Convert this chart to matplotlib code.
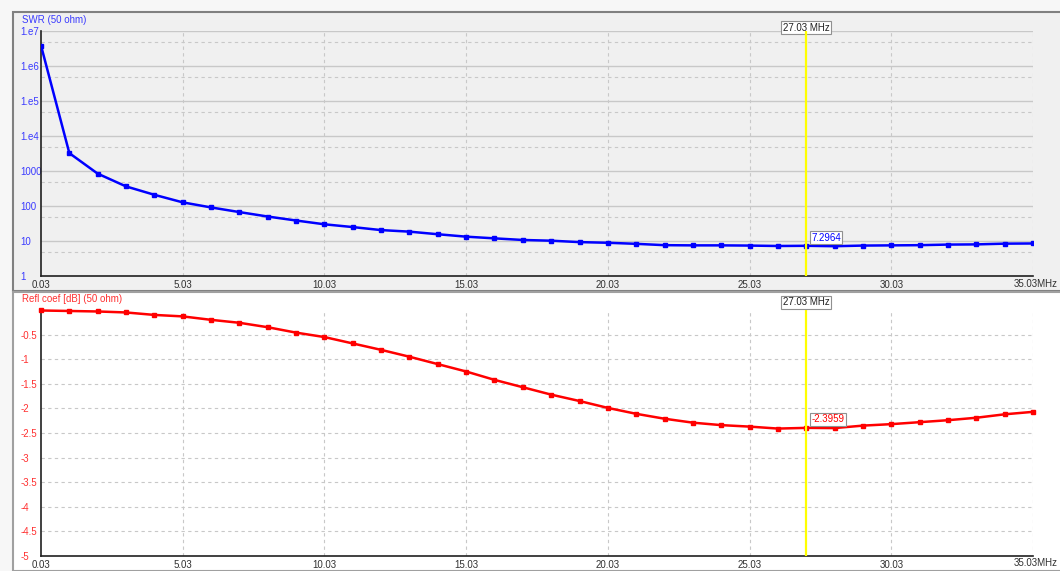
import numpy as np
import matplotlib
matplotlib.use("Agg")
import matplotlib.pyplot as plt
from matplotlib.patches import Rectangle
from matplotlib.ticker import FixedLocator, NullFormatter

plt.rcParams['font.family'] = ['Liberation Sans', 'DejaVu Sans']
plt.rcParams['font.size'] = 7

# sweep: 0.03 .. 35.03 MHz, 1 MHz step
freq = [0.03, 1.03, 2.03, 3.03, 4.03, 5.03, 6.03, 7.03, 8.03, 9.03,
        10.03, 11.03, 12.03, 13.03, 14.03, 15.03, 16.03, 17.03, 18.03, 19.03,
        20.03, 21.03, 22.03, 23.03, 24.03, 25.03, 26.03, 27.03, 28.03, 29.03,
        30.03, 31.03, 32.03, 33.03, 34.03, 35.03]

swr = [3.85e6, 3240, 840, 363, 209, 127, 91, 67, 50, 38.5,
       30, 25, 20.5, 18.5, 15.6, 13.3, 11.9, 10.7, 10.2, 9.3,
       8.9, 8.3, 7.6, 7.5, 7.5, 7.4, 7.2, 7.2964, 7.1, 7.4,
       7.5, 7.6, 7.9, 8.0, 8.4, 8.5]

refl_db = [-0.01, -0.02, -0.03, -0.05, -0.10, -0.13, -0.20, -0.26, -0.35, -0.46,
           -0.55, -0.68, -0.81, -0.95, -1.10, -1.25, -1.42, -1.57, -1.72, -1.85,
           -1.99, -2.11, -2.21, -2.29, -2.34, -2.37, -2.41, -2.3959, -2.40, -2.35,
           -2.32, -2.28, -2.24, -2.19, -2.12, -2.07]

cursor_f = 27.03
cursor_swr = 7.2964
cursor_db = -2.3959

xticks = [0.03, 5.03, 10.03, 15.03, 20.03, 25.03, 30.03, 35.03]
swr_ticks = [1, 10, 100, 1000, 1e4, 1e5, 1e6, 1e7]
swr_labels = ['1', '10', '100', '1000', '1.e4', '1.e5', '1.e6', '1.e7']
swr_minor = [5, 50, 500, 5000, 5e4, 5e5, 5e6]
db_ticks = [-5, -4.5, -4, -3.5, -3, -2.5, -2, -1.5, -1, -0.5]
db_labels = ['-5', '-4.5', '-4', '-3.5', '-3', '-2.5', '-2', '-1.5', '-1', '-0.5']

W, H = 1060, 571
fig = plt.figure(figsize=(W / 100, H / 100), dpi=100)
fig.patch.set_facecolor('#f7f7f7')


def px_rect(x0, y0, x1, y1):
    return [x0 / W, 1 - y1 / H, (x1 - x0) / W, (y1 - y0) / H]


# panel backgrounds
fig.add_artist(Rectangle((13 / W, 1 - 291 / H), 1, (291 - 12) / H, transform=fig.transFigure,
                         facecolor='#f0f0f0', edgecolor='#808080', lw=1.5, zorder=0))
fig.add_artist(Rectangle((13 / W, 0), 1, (571 - 292) / H, transform=fig.transFigure,
                         facecolor='white', edgecolor='#a0a0a0', lw=1.5, zorder=0))

grid_dash = dict(color='#c8c8c8', lw=0.8, ls=(0, (3, 3)))


def style_axes(ax, label_color):
    ax.set_xlim(0.03, 35.03)
    ax.set_xticks(xticks)
    # last label carries the unit, drawn separately at the right edge
    ax.set_xticklabels(['%.2f' % t for t in xticks[:-1]] + [''], color='#303030')
    for t in xticks[1:]:
        ax.axvline(t, zorder=1, **grid_dash)
    for side in ['top', 'right']:
        ax.spines[side].set_visible(False)
    for side in ['left', 'bottom']:
        ax.spines[side].set_color('#202020')
        ax.spines[side].set_linewidth(1.2)
    ax.tick_params(axis='both', length=0)
    ax.tick_params(axis='x', pad=3)
    ax.tick_params(axis='y', pad=15, colors=label_color)
    for lbl in ax.get_yticklabels():
        lbl.set_horizontalalignment('left')


# SWR panel
ax1 = fig.add_axes(px_rect(41, 31, 1033, 276))
ax1.set_facecolor('#f0f0f0')
ax1.set_yscale('log')
ax1.set_ylim(1, 1e7)
ax1.yaxis.set_major_locator(FixedLocator(swr_ticks))
ax1.yaxis.set_minor_locator(FixedLocator([]))
ax1.yaxis.set_minor_formatter(NullFormatter())
ax1.set_yticks(swr_ticks)
ax1.set_yticklabels(swr_labels)
for v in swr_ticks[1:]:
    ax1.axhline(v, color='#c8c8c8', lw=1.0, zorder=1)
for v in swr_minor:
    ax1.axhline(v, zorder=1, **grid_dash)
style_axes(ax1, '#3a3aff')
ax1.plot(freq, swr, color='#0000ff', lw=1.8, marker='s', ms=3.5, zorder=3)
ax1.axvline(cursor_f, color='#ffff00', lw=1.6, zorder=4)
ax1.text(cursor_f, 1.25e7, '27.03 MHz', ha='center', va='center', color='#202020',
         bbox=dict(boxstyle='square,pad=0.15', fc='white', ec='#909090', lw=0.8), clip_on=False)
ax1.text(cursor_f + 0.17, cursor_swr * 1.22, '7.2964', ha='left', va='bottom', color='#0000ff',
         bbox=dict(boxstyle='square,pad=0.15', fc='white', ec='#909090', lw=0.8), zorder=5)
fig.text(22 / W, 1 - 20 / H, 'SWR (50 ohm)', color='#3a3aff', ha='left', va='center')
fig.text(1058 / W, 1 - 284 / H, '%.2fMHz' % xticks[-1], color='#303030', ha='right', va='center')

# reflection coefficient panel
ax2 = fig.add_axes(px_rect(41, 310, 1033, 556))
ax2.set_facecolor('white')
ax2.set_ylim(-5, 0)
ax2.set_yticks(db_ticks)
ax2.set_yticklabels(db_labels)
for v in db_ticks[1:]:
    ax2.axhline(v, zorder=1, **grid_dash)
style_axes(ax2, '#ff3030')
ax2.plot(freq, refl_db, color='#ff0000', lw=1.8, marker='s', ms=3.5, zorder=3, clip_on=False)
ax2.axvline(cursor_f, color='#ffff00', lw=1.6, zorder=4)
ax2.text(cursor_f, 0.16, '27.03 MHz', ha='center', va='center', color='#202020',
         bbox=dict(boxstyle='square,pad=0.15', fc='white', ec='#909090', lw=0.8), clip_on=False)
ax2.text(cursor_f + 0.17, cursor_db + 0.07, '-2.3959', ha='left', va='bottom', color='#ff0000',
         bbox=dict(boxstyle='square,pad=0.15', fc='white', ec='#909090', lw=0.8), zorder=5)
fig.text(22 / W, 1 - 299 / H, 'Refl coef [dB] (50 ohm)', color='#ff3030', ha='left', va='center')
fig.text(1058 / W, 1 - 563 / H, '%.2fMHz' % xticks[-1], color='#303030', ha='right', va='center')

fig.savefig('out.png', dpi=100, facecolor=fig.get_facecolor())
